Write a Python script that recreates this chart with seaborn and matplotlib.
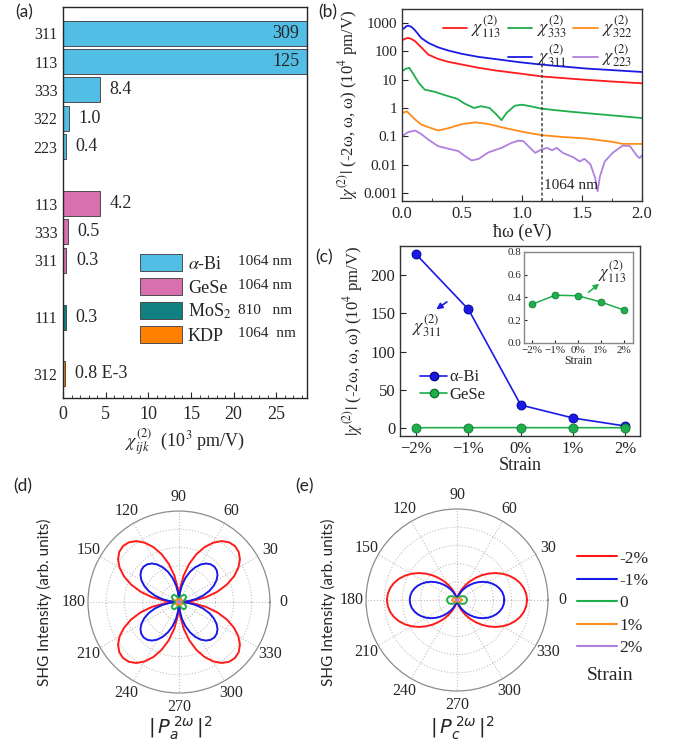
import numpy as np
import pandas as pd
import matplotlib
matplotlib.use("Agg")
import matplotlib.pyplot as plt
import seaborn as sns
from matplotlib.patches import Patch
from matplotlib.lines import Line2D
from matplotlib.ticker import MultipleLocator, FixedLocator, FixedFormatter, NullLocator

# ---------------- data ----------------
# (a) tensor components (bar length in 10^3 pm/V, printed value)
comp_pos = [0, 1, 2, 3, 4, 6, 7, 8, 10, 12]
comp_labels = ["311", "113", "333", "322", "223", "113", "333", "311", "111", "312"]
comp_material = ["aBi"] * 5 + ["GeSe"] * 3 + ["MoS2"] + ["KDP"]
comp_length = [309, 125, 4.35, 0.7, 0.35, 4.3, 0.6, 0.38, 0.35, 0.25]
comp_text = ["309", "125", "8.4", "1.0", "0.4", "4.2", "0.5", "0.3", "0.3", "0.8 E-3"]
materials = ["aBi", "GeSe", "MoS2", "KDP"]
material_names = [r"$\alpha$-Bi", "GeSe", r"MoS$_2$", "KDP"]
material_wavelength = ["1064 nm", "1064 nm", "810   nm", "1064  nm"]
material_colors = ["#52bee6", "#d870b0", "#108080", "#ff8000"]

# (b) |chi(2)| spectra, 10^4 pm/V
x311 = [0, 0.02, 0.035, 0.053, 0.08, 0.11, 0.16, 0.22, 0.30, 0.39, 0.5, 0.64, 0.78, 0.98, 1.16, 1.32, 1.54, 1.76, 2.0]
y311 = [580, 660, 760, 800, 720, 540, 295, 197, 138, 105, 81, 63, 53, 41, 34, 29.5, 24.5, 21.5, 18.6]
x113 = [0, 0.02, 0.05, 0.08, 0.11, 0.16, 0.22, 0.30, 0.39, 0.5, 0.64, 0.78, 1.0, 1.16, 1.32, 1.54, 1.76, 2.0]
y113 = [240, 270, 295, 270, 225, 138, 76, 54, 42, 34, 26, 21, 16, 13, 11.5, 9.8, 8.5, 7.4]
x333 = [0, 0.03, 0.06, 0.09, 0.14, 0.19, 0.275, 0.36, 0.46, 0.525, 0.6, 0.66, 0.73, 0.79, 0.83,
        0.87, 0.94, 1.0, 1.07, 1.16, 1.26, 1.43, 1.68, 2.0]
y333 = [19.6, 24, 26, 17, 7.6, 4.4, 3.7, 2.8, 2.1, 1.4, 1.0, 1.15, 1.0, 0.57, 0.37,
        0.66, 1.2, 1.3, 1.15, 0.95, 0.85, 0.72, 0.58, 0.44]
x322 = [0, 0.04, 0.11, 0.16, 0.22, 0.30, 0.39, 0.5, 0.61, 0.72, 0.86, 1.0, 1.16, 1.32, 1.54, 1.76, 1.84, 2.0]
y322 = [0.66, 0.76, 0.39, 0.26, 0.21, 0.16, 0.195, 0.27, 0.31, 0.27, 0.195, 0.145, 0.11, 0.096, 0.083, 0.063, 0.054, 0.054]
x223 = [0, 0.05, 0.11, 0.16, 0.22, 0.30, 0.39, 0.47, 0.525, 0.58, 0.64, 0.72, 0.83, 0.91, 0.97, 1.01,
        1.04, 1.11, 1.16, 1.21, 1.25, 1.29, 1.34, 1.43, 1.48, 1.52, 1.57, 1.61, 1.63, 1.65, 1.69,
        1.76, 1.84, 1.9, 1.96, 1.98, 2.0]
y223 = [0.1, 0.14, 0.16, 0.12, 0.076, 0.045, 0.036, 0.03, 0.02, 0.014, 0.016, 0.027, 0.039, 0.058, 0.07, 0.068,
        0.051, 0.026, 0.034, 0.039, 0.032, 0.039, 0.026, 0.018, 0.013, 0.016, 0.0104, 0.0034, 0.00115, 0.0039, 0.013,
        0.027, 0.047, 0.045, 0.02, 0.017, 0.021]
laser_ev = 1.165
log_ticks = [0.001, 0.01, 0.1, 1, 10, 100, 1000]
log_tick_labels = ["0.001", "0.01", "0.1", "1", "10", "100", "1000"]

# (c) strain dependence
strain_labels = ["\u22122%", "\u22121%", "0%", "1%", "2%"]
bi_chi311 = [227, 155, 30, 13, 2.5]
gese_chi113 = [0.34, 0.42, 0.415, 0.36, 0.29]

# (d)/(e) polar SHG patterns: relative profile over one quadrant (5 deg steps) and lobe size per strain
strain_legend = ["-2%", "-1%", "0", "1%", "2%"]
quad_a = [0.0, 0.174, 0.342, 0.5, 0.643, 0.766, 0.866, 0.94, 0.985, 1.0,
          0.985, 0.94, 0.866, 0.766, 0.643, 0.5, 0.342, 0.174, 0.0]
amp_a = [0.87, 0.55, 0.10, 0.04, 0.015]
quad_c = [1.0, 0.992, 0.97, 0.933, 0.883, 0.821, 0.75, 0.671, 0.587, 0.5,
          0.413, 0.329, 0.25, 0.179, 0.117, 0.067, 0.03, 0.008, 0.0]
amp_c = [0.77, 0.52, 0.11, 0.05, 0.015]

RED, GREEN, ORANGE, BLUE, PURPLE = "#ff1a1a", "#1fae4b", "#ff8c1a", "#1a1ae6", "#b07fdf"
strain_colors = [RED, BLUE, GREEN, ORANGE, PURPLE]

# ---------------- style ----------------
sns.set_style("ticks", {"xtick.direction": "in", "ytick.direction": "in"})
plt.rcParams["font.family"] = ["Liberation Serif", "DejaVu Serif"]
plt.rcParams["mathtext.fontset"] = "stix"
plt.rcParams["axes.linewidth"] = 1.0

fig = plt.figure(figsize=(6.88, 7.56), dpi=100)

# ---------------- (a) ----------------
ax_a = fig.add_axes([0.0916, 0.4735, 0.3547, 0.5172])
df_a = pd.DataFrame({"pos": comp_pos, "value": comp_length, "material": comp_material})
sns.barplot(data=df_a, x="value", y="pos", hue="material", hue_order=materials, orient="h",
            native_scale=True, dodge=False, width=0.88, errorbar=None, saturation=1,
            palette=dict(zip(materials, material_colors)), edgecolor="#4d4d4d",
            linewidth=0.7, legend=False, ax=ax_a)
xmax_a = 28.6
ax_a.set_xlim(0, xmax_a)
ax_a.set_ylim(12.85, -0.92)
ax_a.set_yticks(comp_pos, comp_labels)
ax_a.tick_params(axis="y", length=0, labelsize=11.5, pad=4)
ax_a.xaxis.set_major_locator(MultipleLocator(5))
ax_a.xaxis.set_minor_locator(MultipleLocator(1))
ax_a.tick_params(axis="x", which="major", length=4, labelsize=13, pad=6)
ax_a.tick_params(axis="x", which="minor", length=2)
ax_a.set_ylabel("")
ax_a.set_xlabel(r"$\chi^{(2)}_{ijk}$  (10$^3$ pm/V)", fontsize=13, labelpad=2)
for pos, length, txt in zip(comp_pos, comp_length, comp_text):
    if length > xmax_a:
        ax_a.text(xmax_a - 0.9, pos, txt, ha="right", va="center", fontsize=13)
    else:
        ax_a.annotate(txt, (length, pos), xytext=(7, 0), textcoords="offset points",
                      ha="left", va="center", fontsize=13)
handles_a = [Patch(facecolor=c, edgecolor="#4d4d4d", linewidth=0.7) for c in material_colors]
ax_a.legend(handles_a, material_names, loc="upper left", bbox_to_anchor=(0.3156, 0.368),
            frameon=False, fontsize=13, handlelength=2.35, handleheight=1.1,
            handletextpad=0.3, labelspacing=0.27, borderpad=0, borderaxespad=0)
for wl, yy in zip(material_wavelength, [0.348, 0.289, 0.225, 0.164]):
    ax_a.text(0.717, yy, wl, transform=ax_a.transAxes, fontsize=11, va="center", ha="left")

# ---------------- (b) ----------------
ax_b = fig.add_axes([0.5843, 0.7341, 0.3488, 0.254])
curves_b = [(x113, y113, RED), (x333, y333, GREEN), (x322, y322, ORANGE),
            (x311, y311, BLUE), (x223, y223, PURPLE)]
for xs, ys, c in curves_b:
    sns.lineplot(x=xs, y=ys, color=c, linewidth=1.3, sort=False, estimator=None, ax=ax_b)
ax_b.set_yscale("log")
ax_b.set_xlim(0, 2.0)
ax_b.set_ylim(5.2e-4, 3100)
ax_b.yaxis.set_major_locator(FixedLocator(log_ticks))
ax_b.yaxis.set_major_formatter(FixedFormatter(log_tick_labels))
ax_b.yaxis.set_minor_locator(NullLocator())
ax_b.xaxis.set_major_locator(MultipleLocator(0.5))
ax_b.xaxis.set_minor_locator(MultipleLocator(0.25))
ax_b.xaxis.set_major_formatter(matplotlib.ticker.FormatStrFormatter("%.1f"))
ax_b.tick_params(axis="both", which="major", length=4, labelsize=12)
ax_b.tick_params(axis="y", labelsize=11)
ax_b.tick_params(axis="x", which="minor", length=2.5)
ax_b.set_xlabel("ħω (eV)", fontsize=13, labelpad=1)
ax_b.set_ylabel(r"$|\chi^{(2)}|$ (-2ω, ω, ω) (10$^4$ pm/V)", fontsize=12, labelpad=2)
ax_b.vlines(laser_ev, 5.2e-4, 34, colors="#444444", linestyles=(0, (2, 1.5)), linewidth=1.1)
ax_b.text(laser_ev + 0.02, 0.0019, "1064 nm", fontsize=11, va="center", ha="left")
blank = Line2D([], [], linestyle="none")
lh = lambda c: Line2D([], [], color=c, linewidth=1.3)
handles_b = [lh(RED), blank, lh(GREEN), lh(BLUE), lh(ORANGE), lh(PURPLE)]
labels_b = [r"$\chi^{(2)}_{113}$", "", r"$\chi^{(2)}_{333}$", r"$\chi^{(2)}_{311}$",
            r"$\chi^{(2)}_{322}$", r"$\chi^{(2)}_{223}$"]
ax_b.legend(handles_b, labels_b, ncol=3, loc="upper right", bbox_to_anchor=(0.985, 1.0),
            frameon=False, fontsize=13, handlelength=1.35, handletextpad=0.25,
            columnspacing=0.35, labelspacing=0.1, borderpad=0.3, borderaxespad=0)
for sp in ax_b.spines.values():
    sp.set_color("#333333")

# ---------------- (c) ----------------
ax_c = fig.add_axes([0.5814, 0.4233, 0.3488, 0.2513])
idx = np.arange(len(strain_labels))
sns.lineplot(x=idx, y=bi_chi311, color=BLUE, linewidth=1.2, marker="o", markersize=6.5,
             markeredgecolor="#00008b", markeredgewidth=0.6, ax=ax_c)
sns.lineplot(x=idx, y=gese_chi113, color=GREEN, linewidth=1.2, marker="o", markersize=6.5,
             markeredgecolor="#0d7a30", markeredgewidth=0.6, ax=ax_c)
ax_c.set_xlim(-0.31, 4.28)
ax_c.set_ylim(-10.5, 238)
ax_c.set_xticks(idx, strain_labels)
ax_c.yaxis.set_major_locator(MultipleLocator(50))
ax_c.tick_params(axis="both", length=4, labelsize=12)
ax_c.set_xlabel("Strain", fontsize=13, labelpad=0)
ax_c.set_ylabel(r"$|\chi^{(2)}|$ (-2ω, ω, ω) (10$^4$ pm/V)", fontsize=12, labelpad=4)
for sp in ax_c.spines.values():
    sp.set_color("#333333")
handles_c = [Line2D([], [], color=BLUE, marker="o", markersize=6, markeredgecolor="#00008b", linewidth=1.2),
             Line2D([], [], color=GREEN, marker="o", markersize=6, markeredgecolor="#0d7a30", linewidth=1.2)]
ax_c.legend(handles_c, ["α-Bi", "GeSe"], loc="upper left", bbox_to_anchor=(0.085, 0.35),
            frameon=False, fontsize=12, handlelength=1.6, handletextpad=0.15,
            labelspacing=0.1, borderpad=0, borderaxespad=0)
ax_c.annotate("", xy=(0.34, 153), xytext=(0.63, 167),
              arrowprops=dict(arrowstyle="-|>", color=BLUE, lw=1.2, mutation_scale=9))
ax_c.text(0.21, 133, r"$\chi^{(2)}_{311}$", fontsize=13, ha="center", va="center")

ax_in = fig.add_axes([0.7616, 0.5463, 0.1584, 0.1204])
sns.lineplot(x=idx, y=gese_chi113, color=GREEN, linewidth=1.1, marker="o", markersize=5,
             markeredgecolor="#0d7a30", markeredgewidth=0.5, ax=ax_in)
ax_in.set_xlim(-0.36, 4.4)
ax_in.set_ylim(0, 0.8)
ax_in.set_xticks(idx, strain_labels)
ax_in.yaxis.set_major_locator(MultipleLocator(0.2))
ax_in.yaxis.set_major_formatter(matplotlib.ticker.FormatStrFormatter("%.1f"))
ax_in.tick_params(axis="both", length=2.5, labelsize=8, pad=2)
ax_in.set_xlabel("Strain", fontsize=8.5, labelpad=0)
for sp in ax_in.spines.values():
    sp.set_color("#888888")
ax_in.annotate("", xy=(3.02, 0.536), xytext=(2.36, 0.43),
               arrowprops=dict(arrowstyle="-|>", color=GREEN, lw=1.1, mutation_scale=8))
ax_in.text(3.5, 0.63, r"$\chi^{(2)}_{113}$", fontsize=12, ha="center", va="center")


# ---------------- (d), (e) ----------------
def full_circle(q):
    q = np.asarray(q)
    return np.concatenate([q, q[-2::-1], q[1:], q[-2::-1]])


theta = np.deg2rad(np.arange(0, 361, 5))
polar_specs = [([0.1279, 0.0833, 0.2645, 0.2407], quad_a, amp_a),
               ([0.532, 0.086, 0.2645, 0.2407], quad_c, amp_c)]
for rect, quad, amps in polar_specs:
    ax_p = fig.add_axes(rect, projection="polar")
    prof = full_circle(quad)
    for amp, c in zip(amps, strain_colors):
        sns.lineplot(x=theta, y=amp * prof, color=c, linewidth=1.4, sort=False,
                     estimator=None, ax=ax_p)
    ax_p.set_ylim(0, 1)
    ax_p.set_yticks([0.2, 0.4, 0.6, 0.8])
    ax_p.set_yticklabels([])
    ax_p.set_thetagrids(np.arange(0, 360, 30), labels=[str(a) for a in range(0, 360, 30)])
    ax_p.tick_params(axis="x", labelsize=11.5, pad=3)
    ax_p.grid(color="#c0c0c0", linestyle=":", linewidth=0.8)
    ax_p.spines["polar"].set_color("#8c8c8c")
    ax_p.spines["polar"].set_linewidth(0.9)
    ax_p.set_xlabel("")
    ax_p.set_ylabel("")

for xx in [0.065, 0.477]:
    fig.text(xx, 0.2037, "SHG Intensity (arb. units)", rotation=90, ha="center", va="center",
             fontsize=11, family="Lato")
fig.text(0.2616, 0.036, r"$|\,P_a^{\,2\omega}\,|^2$", ha="center", va="center", fontsize=14,
         family="Lato", math_fontfamily="dejavusans")
fig.text(0.672, 0.036, r"$|\,P_c^{\,2\omega}\,|^2$", ha="center", va="center", fontsize=14,
         family="Lato", math_fontfamily="dejavusans")

handles_e = [Line2D([], [], color=c, linewidth=1.5) for c in strain_colors]
fig.legend(handles_e, strain_legend, loc="upper left", bbox_to_anchor=(0.8387, 0.272),
           frameon=False, fontsize=12.5, handlelength=2.3, handletextpad=0.15,
           labelspacing=0.36, borderpad=0, borderaxespad=0)
fig.text(0.8866, 0.1071, "Strain", ha="center", va="center", fontsize=14)

# panel labels
for lab, xx, yy in [("(a)", 0.022, 0.983), ("(b)", 0.462, 0.983), ("(c)", 0.458, 0.66),
                    ("(d)", 0.019, 0.356), ("(e)", 0.429, 0.356)]:
    fig.text(xx, yy, lab, fontsize=12.5, family="Lato", ha="left", va="center")

fig.savefig("out.png", dpi=100)
